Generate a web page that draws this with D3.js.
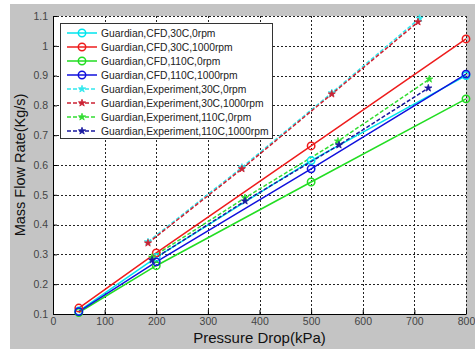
<!DOCTYPE html>
<html>
<head>
<meta charset="utf-8">
<script src="https://cdn.jsdelivr.net/npm/d3@7"></script>
<style>
  body { margin: 0; background: #fff; }
  text { font-family: "Liberation Sans", Arial, sans-serif; }
</style>
</head>
<body>
<div id="chart"></div>
<script>
// x ticks / y ticks
const xTicks = [0, 100, 200, 300, 400, 500, 600, 700, 800];
const yTicks = [0.1, 0.2, 0.3, 0.4, 0.5, 0.6, 0.7, 0.8, 0.9, 1, 1.1];

// CFD series (pressure drop kPa)
const cfdX = [50, 200, 500, 800];
const cfd30c0 = [0.11, 0.29, 0.615, 0.9];
const cfd30c1000 = [0.12, 0.305, 0.664, 1.023];
const cfd110c0 = [0.105, 0.262, 0.543, 0.822];
const cfd110c1000 = [0.108, 0.275, 0.587, 0.905];

// experiment series
const exp30c0X = [184, 366, 540, 710];
const exp30c0 = [0.342, 0.592, 0.842, 1.092];
const exp30c1000X = [184, 366, 540, 707];
const exp30c1000 = [0.338, 0.587, 0.838, 1.08];
const exp110c0X = [192, 372, 552, 729];
const exp110c0 = [0.29, 0.49, 0.68, 0.888];
const exp110c1000X = [192, 372, 554, 727];
const exp110c1000 = [0.281, 0.479, 0.667, 0.858];

const series = [
  { name: 'Guardian,CFD,30C,0rpm', x: cfdX, y: cfd30c0, color: '#00e5ee', dash: null, marker: 'circle' },
  { name: 'Guardian,CFD,30C,1000rpm', x: cfdX, y: cfd30c1000, color: '#ee1c1c', dash: null, marker: 'circle' },
  { name: 'Guardian,CFD,110C,0rpm', x: cfdX, y: cfd110c0, color: '#22dd22', dash: null, marker: 'circle' },
  { name: 'Guardian,CFD,110C,1000rpm', x: cfdX, y: cfd110c1000, color: '#1010dd', dash: null, marker: 'circle' },
  { name: 'Guardian,Experiment,30C,0rpm', x: exp30c0X, y: exp30c0, color: '#33e8ee', dash: '4,2', marker: 'star' },
  { name: 'Guardian,Experiment,30C,1000rpm', x: exp30c1000X, y: exp30c1000, color: '#cc2233', dash: '4,2', marker: 'star' },
  { name: 'Guardian,Experiment,110C,0rpm', x: exp110c0X, y: exp110c0, color: '#33dd33', dash: '4,2', marker: 'star' },
  { name: 'Guardian,Experiment,110C,1000rpm', x: exp110c1000X, y: exp110c1000, color: '#1a1aa0', dash: '4,2', marker: 'star' }
];

const W = 475, H = 349;
const mLeft = 53, mRight = 466, mTop = 16, mBottom = 314;

const svg = d3.select('#chart').append('svg')
  .attr('width', W)
  .attr('height', H);

// figure background
svg.append('rect')
  .attr('x', 10).attr('y', 4)
  .attr('width', W - 10).attr('height', H - 4)
  .attr('fill', '#c4c4c4');

svg.append('rect')
  .attr('x', mLeft).attr('y', mTop)
  .attr('width', mRight - mLeft).attr('height', mBottom - mTop)
  .attr('fill', '#fff');

const x = d3.scaleLinear().domain([0, 800]).range([mLeft, mRight]);
const y = d3.scaleLinear().domain([0.1, 1.1]).range([mBottom, mTop]);

// grid
const grid = svg.append('g')
  .attr('stroke', '#222')
  .attr('stroke-width', 1)
  .attr('stroke-dasharray', '2,2');

grid.selectAll('.gx')
  .data(xTicks.slice(1))
  .join('line')
  .attr('x1', d => Math.round(x(d)) + 0.5)
  .attr('x2', d => Math.round(x(d)) + 0.5)
  .attr('y1', mTop).attr('y2', mBottom);

grid.selectAll('.gy')
  .data(yTicks.slice(1))
  .join('line')
  .attr('y1', d => Math.round(y(d)) + 0.5)
  .attr('y2', d => Math.round(y(d)) + 0.5)
  .attr('x1', mLeft).attr('x2', mRight);

// axes (ticks pointing inward)
const xAxis = svg.append('g')
  .attr('transform', `translate(0,${mBottom})`)
  .call(d3.axisBottom(x).tickValues(xTicks).tickSize(-4).tickSizeOuter(0).tickPadding(4).tickFormat(d3.format('d')));

const yAxis = svg.append('g')
  .attr('transform', `translate(${mLeft},0)`)
  .call(d3.axisLeft(y).tickValues(yTicks).tickSize(-4).tickSizeOuter(0).tickPadding(5).tickFormat(d => String(+d.toFixed(1))));

[xAxis, yAxis].forEach(a => {
  a.select('.domain').attr('stroke', '#000').attr('stroke-width', 1);
  a.selectAll('.tick line').attr('stroke', '#000');
  a.selectAll('.tick text')
    .attr('fill', '#444')
    .style('font-size', '10.5px')
    .style('font-family', '"Liberation Sans", Arial, sans-serif');
});

// lines
const line = d3.line()
  .x(d => x(d[0]))
  .y(d => y(d[1]));

const plot = svg.append('g');

series.forEach(s => {
  const pts = s.x.map((v, i) => [v, s.y[i]]);
  plot.append('path')
    .datum(pts)
    .attr('d', line)
    .attr('fill', 'none')
    .attr('stroke', s.color)
    .attr('stroke-width', 1.5)
    .attr('stroke-dasharray', s.dash);
});

const star = d3.symbol().type(d3.symbolStar).size(16);

function drawMarker(g, s, cx, cy) {
  if (s.marker === 'circle') {
    g.append('circle')
      .attr('cx', cx).attr('cy', cy).attr('r', 3.7)
      .attr('fill', 'none')
      .attr('stroke', s.color)
      .attr('stroke-width', 1.5);
  } else {
    g.append('path')
      .attr('d', star())
      .attr('transform', `translate(${cx},${cy})`)
      .attr('fill', s.color)
      .attr('stroke', s.color)
      .attr('stroke-width', 0.8);
  }
}

series.forEach(s => {
  s.x.forEach((v, i) => drawMarker(plot, s, x(v), y(s.y[i])));
});

// legend
const lg = svg.append('g').attr('transform', 'translate(60,23)');
lg.append('rect')
  .attr('x', 0.5).attr('y', 0.5)
  .attr('width', 212).attr('height', 115)
  .attr('fill', '#fff')
  .attr('stroke', '#333')
  .attr('stroke-width', 1);

series.forEach((s, i) => {
  const yy = 10 + i * 14;
  lg.append('line')
    .attr('x1', 7).attr('x2', 37)
    .attr('y1', yy).attr('y2', yy)
    .attr('stroke', s.color)
    .attr('stroke-width', 1.5)
    .attr('stroke-dasharray', s.dash);
  drawMarker(lg, s, 22, yy);
  lg.append('text')
    .attr('x', 41).attr('y', yy + 4)
    .attr('fill', '#222')
    .style('font-size', '10.3px')
    .text(s.name);
});

// axis titles
svg.append('text')
  .attr('transform', `translate(25,${(mTop + mBottom) / 2}) rotate(-90)`)
  .attr('text-anchor', 'middle')
  .attr('fill', '#111')
  .style('font-size', '14.5px')
  .text('Mass Flow Rate(Kg/s)');

svg.append('text')
  .attr('x', (mLeft + mRight) / 2)
  .attr('y', 343)
  .attr('text-anchor', 'middle')
  .attr('fill', '#111')
  .style('font-size', '15px')
  .text('Pressure Drop(kPa)');
</script>
</body>
</html>
